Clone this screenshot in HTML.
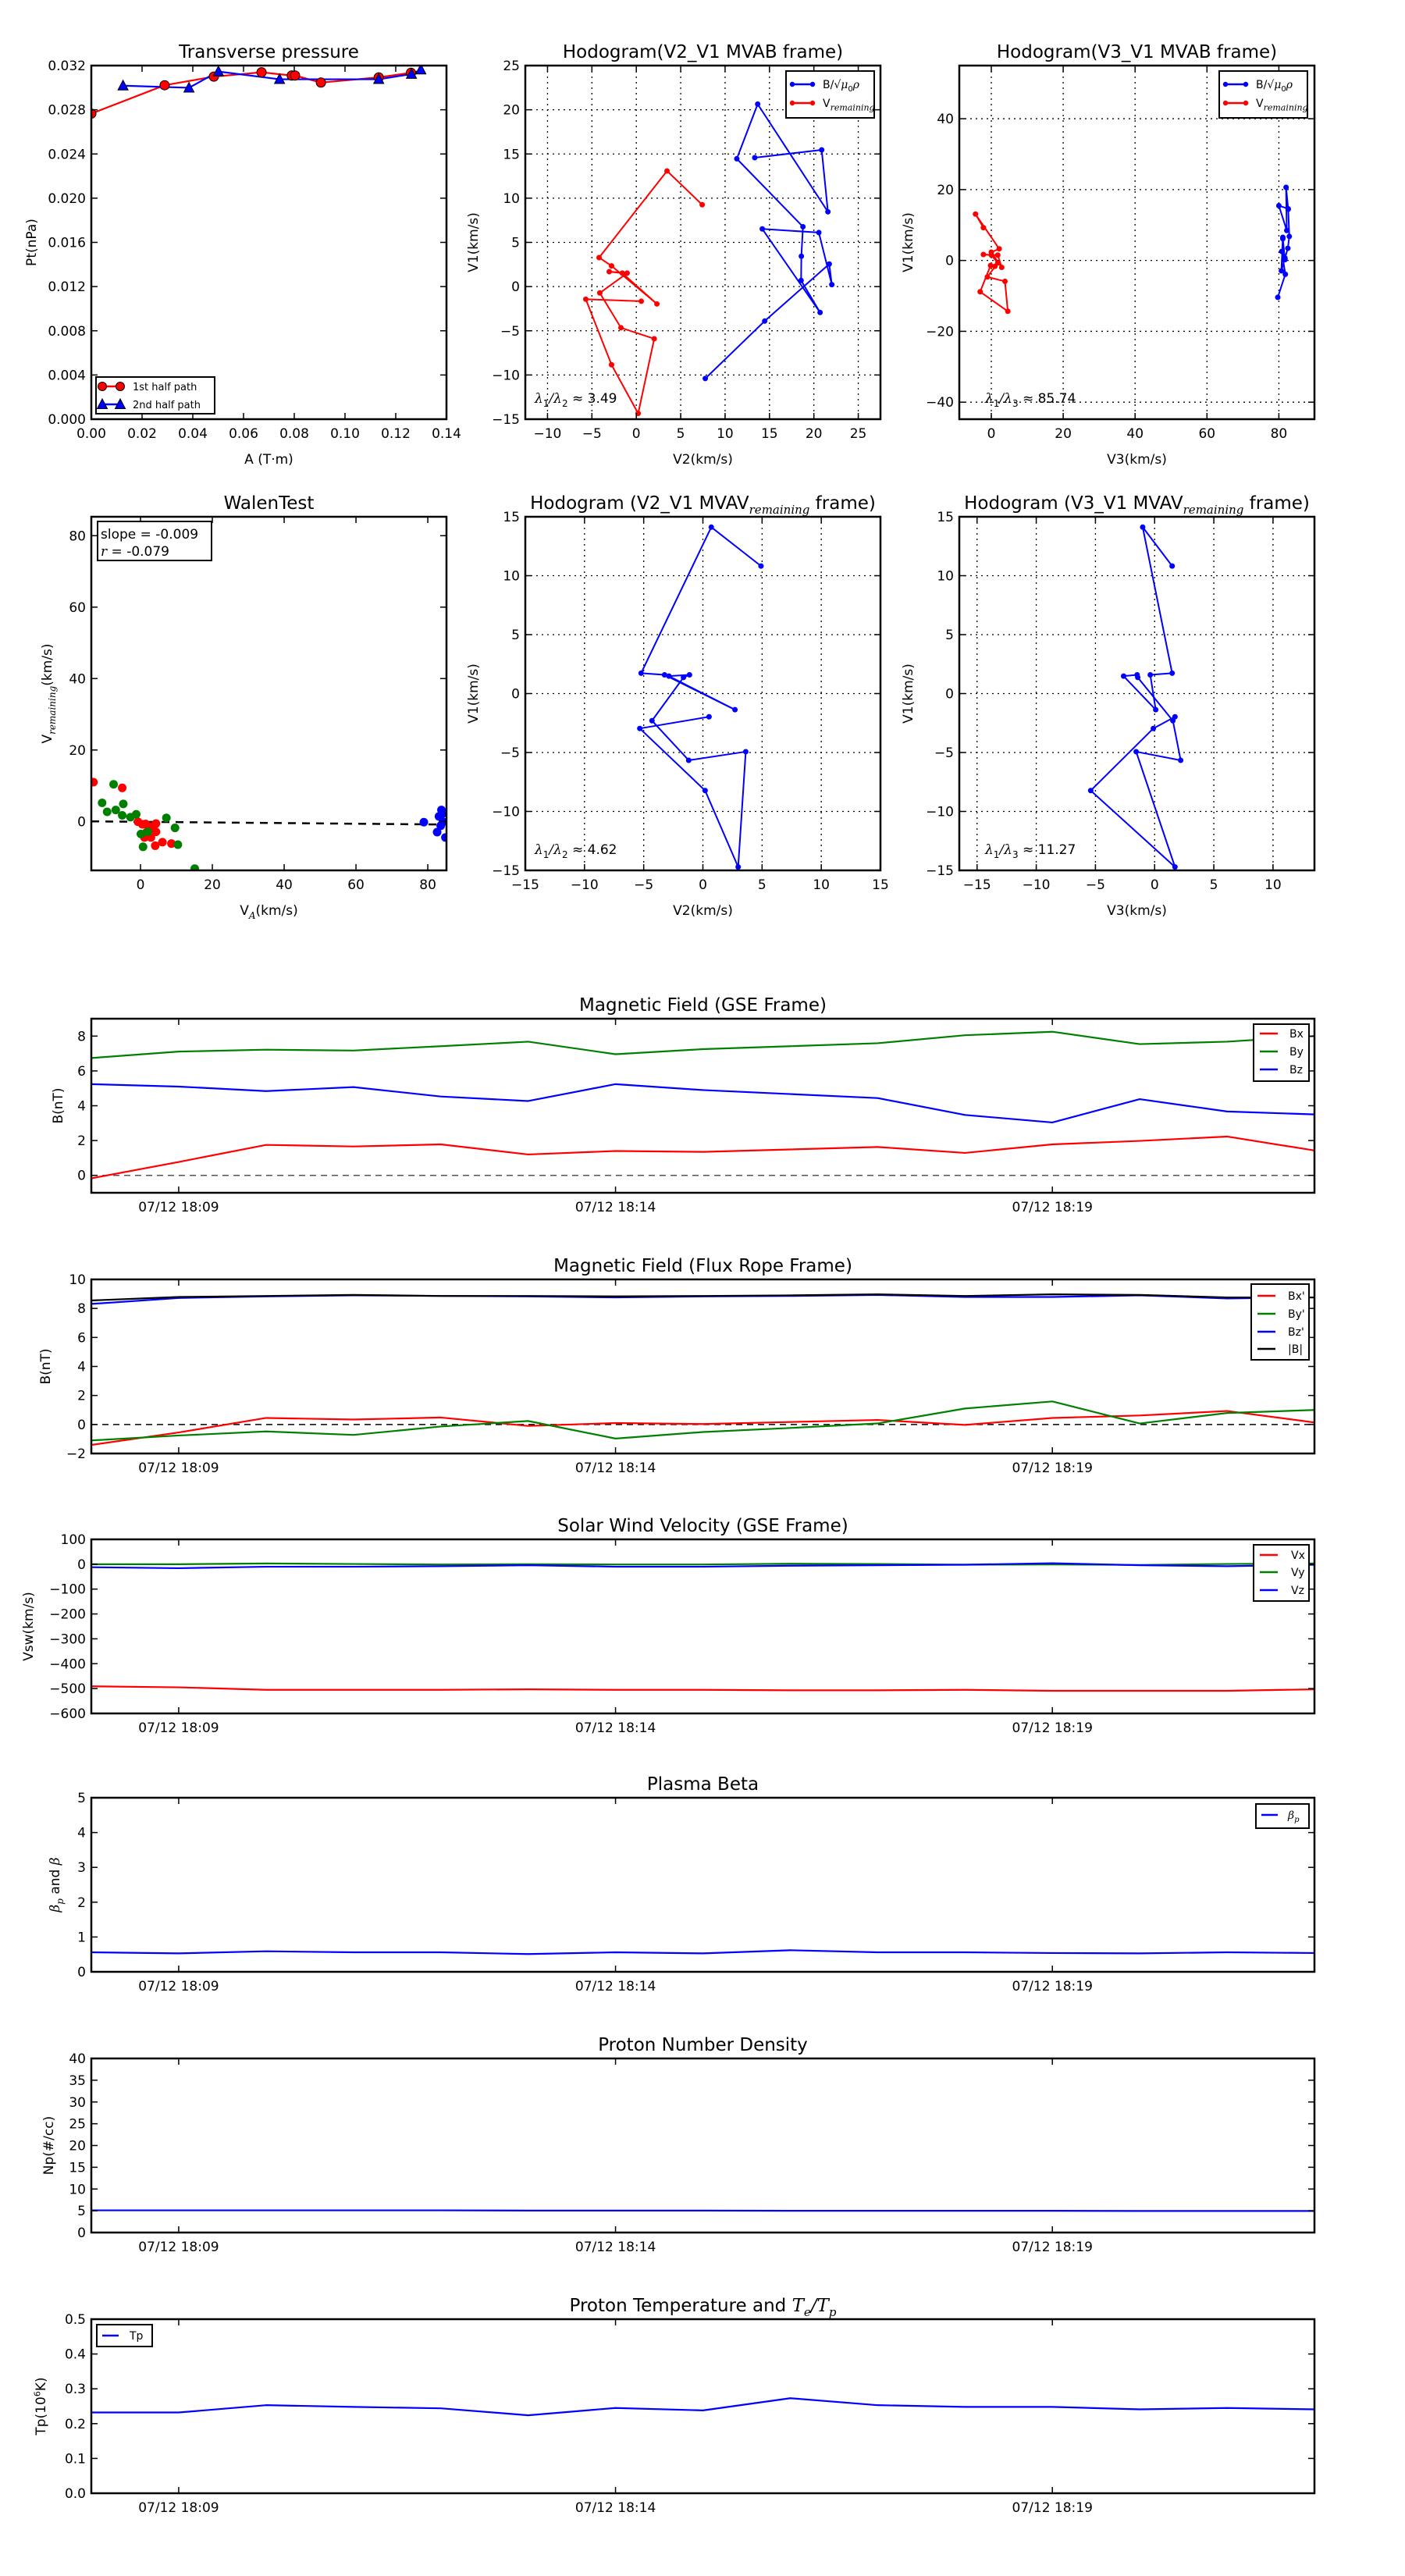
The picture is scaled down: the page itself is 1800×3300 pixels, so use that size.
<!DOCTYPE html>
<html><head><meta charset="utf-8"><style>
html,body{margin:0;padding:0;background:#fff;}
svg{display:block;font-family:"DejaVu Sans","Liberation Sans",sans-serif;}
</style></head><body>
<svg id="fig" width="1800" height="3300" viewBox="0 0 1800 3300" xmlns="http://www.w3.org/2000/svg">
<rect x="0" y="0" width="1800" height="3300" fill="#fff"/>
<defs id="defs"></defs>
</svg>
<script>
// ---------- DATA ----------
const p1A=[0.0,0.0289,0.0483,0.0671,0.079,0.0803,0.0905,0.1133,0.126];
const p1Pt=[0.02765,0.03022,0.0310,0.03139,0.0311,0.0311,0.03046,0.03093,0.03135];
const p2A=[0.0125,0.0385,0.0501,0.0742,0.1133,0.1262,0.1299];
const p2Pt=[0.03018,0.02999,0.03146,0.03076,0.03076,0.03123,0.03163];
const bV2=[13.34,20.88,21.58,13.67,11.32,18.77,18.59,18.56,20.70,14.19,20.56,22.02,21.73,14.46,7.77];
const bV1=[14.58,15.46,8.46,20.64,14.46,6.77,3.43,0.69,-2.93,6.52,6.11,0.22,2.55,-3.90,-10.40];
const bV3=[82.6,80.0,82.2,82.0,82.6,82.9,82.5,81.7,80.7,81.1,81.1,81.7,80.8,81.8,79.7];
const rV2=[7.42,3.46,-4.19,-2.79,2.32,-1.58,-3.05,-1.03,-4.11,-1.73,2.02,0.21,-2.79,-5.69,0.56];
const rV1=[9.26,13.08,3.28,2.34,-1.96,1.52,1.69,1.52,-0.72,-4.66,-5.90,-14.35,-8.84,-1.43,-1.66];
const rV3=[-2.2,-4.4,2.2,0.0,2.9,1.8,-2.2,0.0,1.8,-1.1,3.8,4.6,-3.1,-0.2,1.0];
const mV2=[4.91,0.71,-5.22,-3.24,2.71,-2.87,-1.13,-1.64,-4.30,-1.20,3.62,2.98,0.19,-5.33,0.52];
const mV1=[10.82,14.12,1.73,1.59,-1.37,1.48,1.59,1.37,-2.30,-5.66,-4.93,-14.71,-8.23,-2.96,-1.97];
const mV3=[1.48,-1.01,1.48,-0.37,0.09,-2.62,-1.48,-1.43,1.54,2.2,-1.56,1.72,-5.4,-0.11,1.72];
const wRedX=[-13.1,-5.1,-0.7,0.5,1.4,4.3,2.7,4.3,1.1,2.9,4.1,6.1,8.6,1.7];
const wRedY=[11.0,9.4,-0.1,-0.8,-0.7,-0.6,-1.5,-2.9,-4.5,-4.5,-6.8,-5.8,-6.2,-3.0];
const wGrnX=[-7.5,-10.7,-4.8,-9.3,-6.9,-5.1,-2.8,-1.2,7.2,9.6,0.1,2.0,0.7,10.4,15.1];
const wGrnY=[10.4,5.2,4.9,2.7,3.2,1.7,1.2,2.0,1.0,-1.8,-3.5,-2.9,-7.1,-6.5,-13.2];
const wBluX=[78.9,82.6,83.8,83.1,84.2,83.6,84.9,84.0];
const wBluY=[-0.2,-3.0,3.2,1.4,-0.1,-1.2,-4.5,2.1];
const wSlope=-0.009, wIntercept=-0.1;
const times=['18:08','18:09','18:10','18:11','18:12','18:13','18:14','18:15','18:16','18:17','18:18','18:19','18:20','18:21','18:22'];
const timeTickMin=[1,6,11];
const timeTickLabels=['07/12 18:09','07/12 18:14','07/12 18:19'];
const gseBx=[-0.17,0.77,1.75,1.66,1.78,1.2,1.4,1.35,1.49,1.63,1.29,1.78,1.98,2.23,1.43];
const gseBy=[6.74,7.11,7.22,7.17,7.42,7.68,6.96,7.25,7.42,7.59,8.05,8.25,7.54,7.68,8.0];
const gseBz=[5.24,5.1,4.84,5.07,4.53,4.27,5.24,4.9,4.67,4.44,3.47,3.04,4.38,3.67,3.5];
const frBx=[-1.41,-0.55,0.45,0.34,0.48,-0.1,0.1,0.03,0.17,0.31,-0.03,0.45,0.62,0.93,0.14];
const frBy=[-1.1,-0.76,-0.48,-0.72,-0.14,0.24,-0.97,-0.52,-0.24,0.07,1.1,1.59,0.07,0.79,1.0];
const frBz=[8.31,8.72,8.83,8.9,8.86,8.83,8.76,8.83,8.86,8.93,8.79,8.79,8.9,8.69,8.76];
const frBt=[8.55,8.79,8.86,8.93,8.86,8.86,8.83,8.86,8.9,8.97,8.86,8.97,8.93,8.76,8.76];
const vx=[-491,-495,-505,-505,-505,-503,-505,-505,-507,-507,-505,-509,-509,-509,-503];
const vy=[0,0,3,1,-1,0,-1,-1,2,1,-2,-1,-3,1,3];
const vz=[-12,-16,-10,-10,-8,-4,-10,-10,-6,-4,-2,4,-4,-8,-2];
const betaP=[0.56,0.53,0.59,0.56,0.56,0.51,0.56,0.53,0.62,0.56,0.56,0.54,0.53,0.56,0.54];
const np=[5.1,5.1,5.1,5.1,5.1,5.05,5.05,5.05,5.0,5.0,5.0,5.0,4.95,4.95,4.95];
const tp=[0.232,0.232,0.253,0.248,0.244,0.224,0.245,0.238,0.273,0.253,0.248,0.248,0.241,0.245,0.241];

// ---------- HELPERS ----------
const NS='http://www.w3.org/2000/svg';
const svg=document.getElementById('fig');
const defs=document.getElementById('defs');
let clipN=0;
function mk(tag,attrs,parent){const e=document.createElementNS(NS,tag);for(const k in attrs)e.setAttribute(k,attrs[k]);(parent||svg).appendChild(e);return e;}
function txt(x,y,s,attrs,parent){const e=mk('text',Object.assign({x:x,y:y,'font-size':17,fill:'#000'},attrs||{}),parent);e.textContent=s;return e;}
function range(a,b,s){const r=[];for(let v=a;v<=b+1e-9;v+=s)r.push(+v.toFixed(6));return r;}
const MATH={'font-family':'"DejaVu Serif","Liberation Serif",serif','font-style':'italic'};
// parts: {s, a, sub:size, sup:size}
function addParts(t,parts){
  let shift=0;
  parts.forEach(p=>{
    const a=Object.assign({},p.a||{});
    let target=0;
    if(p.sub){target=p.sub*0.4;a['font-size']=p.sub;}
    if(p.sup){target=-p.sup*0.6;a['font-size']=p.sup;}
    const d=target-shift;
    if(d!==0)a.dy=d;
    shift=target;
    const s=mk('tspan',a,t);s.textContent=p.s;
  });
}

function axes(o){
  const g=mk('g',{});
  
  
  const sx=v=>o.x+(v-o.xlim[0])/(o.xlim[1]-o.xlim[0])*o.w;
  const sy=v=>o.y+o.h-(v-o.ylim[0])/(o.ylim[1]-o.ylim[0])*o.h;
  const id='clip'+(clipN++);
  const cp=mk('clipPath',{id:id},defs);
  mk('rect',{x:o.x,y:o.y,width:o.w,height:o.h},cp);
  if(o.grid){
    o.xticks.forEach(t=>{const l=mk('line',{x1:sx(t),x2:sx(t),y1:o.y,y2:o.y+o.h,stroke:'#000','stroke-width':1.3,'stroke-dasharray':'2,5'},g);
      
      });
    o.yticks.forEach(t=>{const l=mk('line',{x1:o.x,x2:o.x+o.w,y1:sy(t),y2:sy(t),stroke:'#000','stroke-width':1.3,'stroke-dasharray':'2,5'},g);
      
      });
  }
  const data=mk('g',{'clip-path':'url(#'+id+')'},g);
  
  
  const front=mk('g',{},g);
  o.xticks.forEach((t,i)=>{
    const X=sx(t);
    mk('line',{x1:X,x2:X,y1:o.y+o.h,y2:o.y+o.h-8,stroke:'#000','stroke-width':1.5},front);
    mk('line',{x1:X,x2:X,y1:o.y,y2:o.y+8,stroke:'#000','stroke-width':1.5},front);
    const lab=o.xlabels?o.xlabels[i]:(o.xfmt?o.xfmt(t):String(t).replace('-','\u2212'));
    const e=txt(X,o.y+o.h+24,lab,{'text-anchor':'middle'},front);
    
    
  });
  o.yticks.forEach(t=>{
    const Y=sy(t);
    mk('line',{x1:o.x,x2:o.x+8,y1:Y,y2:Y,stroke:'#000','stroke-width':1.5},front);
    mk('line',{x1:o.x+o.w,x2:o.x+o.w-8,y1:Y,y2:Y,stroke:'#000','stroke-width':1.5},front);
    const lab=o.yfmt?o.yfmt(t):String(t).replace('-','\u2212');
    const e=txt(o.x-7,Y+6,lab,{'text-anchor':'end'},front);
    
    
  });
  const fr=mk('rect',{x:o.x,y:o.y,width:o.w,height:o.h,fill:'none',stroke:'#000','stroke-width':2.5},front);
  
  
  return {g:g,data:data,front:front,sx:sx,sy:sy,o:o};
}
function title(ax,parts){
  const t=mk('text',{x:ax.o.x+ax.o.w/2,y:ax.o.y-10,'font-size':23,'text-anchor':'middle'},ax.front);
  
  
  addParts(t,parts);
  return t;
}
function ylabel(ax,x,parts){
  const cy=ax.o.y+ax.o.h/2;
  const t=mk('text',{x:x,y:cy,'font-size':17,'text-anchor':'middle',transform:'rotate(-90 '+x+' '+cy+')'},ax.front);
  
  
  addParts(t,parts);
}
function xlabel(ax,y,parts){
  const t=mk('text',{x:ax.o.x+ax.o.w/2,y:y,'font-size':17,'text-anchor':'middle'},ax.front);
  
  
  addParts(t,parts);
}
function polyline(ax,xs,ys,color,w,name){
  const pts=xs.map((v,i)=>ax.sx(v).toFixed(2)+','+ax.sy(ys[i]).toFixed(2)).join(' ');
  const l=mk('polyline',{points:pts,fill:'none',stroke:color,'stroke-width':w,'stroke-linejoin':'round'},ax.data);
  
  
  return l;
}
function dots(ax,xs,ys,color,r,name,stroke){
  xs.forEach((v,i)=>{
    const c=mk('circle',{cx:ax.sx(v),cy:ax.sy(ys[i]),r:r,fill:color,stroke:stroke||'none','stroke-width':1},ax.data);
    
    
  });
}
function tris(ax,xs,ys,color,name){
  xs.forEach((v,i)=>{
    const X=ax.sx(v),Y=ax.sy(ys[i]);
    const p=mk('polygon',{points:(X)+','+(Y-7)+' '+(X-6.5)+','+(Y+5.5)+' '+(X+6.5)+','+(Y+5.5),fill:color,stroke:'#000','stroke-width':1},ax.data);
    
    
  });
}
function legendBox(parent,x,y,w,h,name){
  const r=mk('rect',{x:x,y:y,width:w,height:h,fill:'#fff',stroke:'#000','stroke-width':2},parent);
  
  
}
function legendLine(parent,x1,x2,y,color,label,tx,fs,marker){
  const l=mk('line',{x1:x1,x2:x2,y1:y,y2:y,stroke:color,'stroke-width':2.5},parent);
  
  
  if(marker){[x1,x2].forEach(xx=>{const c=mk('circle',{cx:xx,cy:y,r:3.2,fill:color},parent);
    
    });}
  const t=mk('text',{x:tx,y:y+5,'font-size':fs||14},parent);
  
  
  addParts(t,Array.isArray(label)?label:[{s:label}]);
}
function lambdaText(parent,x,y,n,val){
  const t=mk('text',{x:x,y:y,'font-size':17},parent);
  
  
  addParts(t,[{s:'\u03bb',a:MATH},{s:'1',sub:12},{s:'/',a:MATH},{s:'\u03bb',a:MATH},{s:n,sub:12},{s:' \u2248 '+val}]);
}

// ---------- ROW 1 ----------
const R1Y=84,R2Y=662,AH=453,AW=455,C1=117,C2=673,C3=1229;

const axP=axes({name:'transverse-pressure-chart',x:C1,y:R1Y,w:AW,h:AH,xlim:[0,0.14],ylim:[0,0.032],
  xticks:range(0,0.14,0.02),yticks:range(0,0.032,0.004),xfmt:v=>v.toFixed(2),yfmt:v=>v.toFixed(3)});
title(axP,[{s:'Transverse pressure'}]);
ylabel(axP,46,[{s:'Pt(nPa)'}]);
xlabel(axP,594,[{s:'A (T\u00b7m)'}]);
polyline(axP,p1A,p1Pt,'#ff0000',2.2,'first-half-path-line');
polyline(axP,p2A,p2Pt,'#0000ff',2.2,'second-half-path-line');
dots(axP,p1A,p1Pt,'#ff0000',6,'first-half-point','#000');
tris(axP,p2A,p2Pt,'#0000ff','second-half-point');
(function(){const f=axP.front;legendBox(f,123,483,152,47,'pressure-legend');
  legendLine(f,131,154,495,'#ff0000','1st half path',170,13);
  [131,154].forEach(xx=>{const c=mk('circle',{cx:xx,cy:495,r:5.5,fill:'#ff0000',stroke:'#000'},f);
    
    });
  legendLine(f,131,154,518,'#0000ff','2nd half path',170,13);
  [131,154].forEach(xx=>{const p=mk('polygon',{points:xx+','+(518-7)+' '+(xx-6.5)+','+(518+5.5)+' '+(xx+6.5)+','+(518+5.5),fill:'#0000ff',stroke:'#000'},f);
    
    });
})();

const axH1=axes({name:'hodogram-v2-v1-mvab',x:C2,y:R1Y,w:AW,h:AH,xlim:[-12.5,27.5],ylim:[-15,25],
  xticks:range(-10,25,5),yticks:range(-15,25,5),grid:true});
title(axH1,[{s:'Hodogram(V2_V1 MVAB frame)'}]);
ylabel(axH1,612,[{s:'V1(km/s)'}]);
xlabel(axH1,594,[{s:'V2(km/s)'}]);
polyline(axH1,bV2,bV1,'#0000ff',2,'b-hodogram-line');
dots(axH1,bV2,bV1,'#0000ff',3.5,'b-hodogram-point');
polyline(axH1,rV2,rV1,'#ff0000',2,'v-hodogram-line');
dots(axH1,rV2,rV1,'#ff0000',3.5,'v-hodogram-point');
lambdaText(axH1.front,685,516,'2','3.49');
function hodoLegend(ax,x,y){
  const f=ax.front;legendBox(f,x,y,113,60,'hodogram-legend');
  legendLine(f,x+8,x+34,y+17,'#0000ff',[{s:'B/\u221a'},{s:'\u03bc',a:MATH},{s:'0',sub:10},{s:'\u03c1',a:MATH}],x+47,14,true);
  legendLine(f,x+8,x+34,y+41,'#ff0000',[{s:'V'},{s:'remaining',sub:11,a:MATH}],x+47,14,true);
}
hodoLegend(axH1,1007,91);

const axH2=axes({name:'hodogram-v3-v1-mvab',x:C3,y:R1Y,w:AW,h:AH,xlim:[-8.9,89.9],ylim:[-44.8,55],
  xticks:range(0,80,20),yticks:range(-40,40,20),grid:true});
title(axH2,[{s:'Hodogram(V3_V1 MVAB frame)'}]);
ylabel(axH2,1169,[{s:'V1(km/s)'}]);
xlabel(axH2,594,[{s:'V3(km/s)'}]);
polyline(axH2,bV3,bV1,'#0000ff',2,'b-hodogram-line');
dots(axH2,bV3,bV1,'#0000ff',3.5,'b-hodogram-point');
polyline(axH2,rV3,rV1,'#ff0000',2,'v-hodogram-line');
dots(axH2,rV3,rV1,'#ff0000',3.5,'v-hodogram-point');
lambdaText(axH2.front,1262,516,'3','85.74');
hodoLegend(axH2,1562,91);

// ---------- ROW 2 ----------
const axW=axes({name:'walen-test-chart',x:C1,y:R2Y,w:AW,h:AH,xlim:[-13.7,85.2],ylim:[-13.7,85.3],
  xticks:range(0,80,20),yticks:range(0,80,20)});
title(axW,[{s:'WalenTest'}]);
ylabel(axW,66,[{s:'V'},{s:'remaining',sub:12,a:MATH},{s:'(km/s)'}]);
xlabel(axW,1172,[{s:'V'},{s:'A',sub:12,a:MATH},{s:'(km/s)'}]);
(function(){const x0=-13.7,x1=85.2;
  const l=mk('line',{x1:axW.sx(x0),y1:axW.sy(wIntercept+wSlope*x0),x2:axW.sx(x1),y2:axW.sy(wIntercept+wSlope*x1),stroke:'#000','stroke-width':2.5,'stroke-dasharray':'10,8'},axW.data);
  
  })();
dots(axW,wRedX,wRedY,'#ff0000',5.5,'walen-point-red');
dots(axW,wGrnX,wGrnY,'#008000',5.5,'walen-point-green');
dots(axW,wBluX,wBluY,'#0000ff',5.5,'walen-point-blue');
(function(){const f=axW.front;legendBox(f,125,668,146,50,'walen-stats-box');
  const t1=txt(129,690,'slope = -0.009',{},f);
  
  
  const t2=mk('text',{x:129,y:712,'font-size':17},f);
  
  
  addParts(t2,[{s:'r',a:MATH},{s:' = -0.079'}]);})();

const axH3=axes({name:'hodogram-v2-v1-mvav',x:C2,y:R2Y,w:AW,h:AH,xlim:[-15,15],ylim:[-15,15],
  xticks:range(-15,15,5),yticks:range(-15,15,5),grid:true});
title(axH3,[{s:'Hodogram (V2_V1 MVAV'},{s:'remaining',sub:15,a:MATH},{s:' frame)'}]);
ylabel(axH3,612,[{s:'V1(km/s)'}]);
xlabel(axH3,1172,[{s:'V2(km/s)'}]);
polyline(axH3,mV2,mV1,'#0000ff',2,'mvav-hodogram-line');
dots(axH3,mV2,mV1,'#0000ff',3.5,'mvav-hodogram-point');
lambdaText(axH3.front,685,1094,'2','4.62');

const axH4=axes({name:'hodogram-v3-v1-mvav',x:C3,y:R2Y,w:AW,h:AH,xlim:[-16.5,13.5],ylim:[-15,15],
  xticks:range(-15,10,5),yticks:range(-15,15,5),grid:true});
title(axH4,[{s:'Hodogram (V3_V1 MVAV'},{s:'remaining',sub:15,a:MATH},{s:' frame)'}]);
ylabel(axH4,1169,[{s:'V1(km/s)'}]);
xlabel(axH4,1172,[{s:'V3(km/s)'}]);
polyline(axH4,mV3,mV1,'#0000ff',2,'mvav-hodogram-line');
dots(axH4,mV3,mV1,'#0000ff',3.5,'mvav-hodogram-point');
lambdaText(axH4.front,1262,1094,'3','11.27');

// ---------- TIME SERIES ----------
const TX=117,TW=1567,TH=223;
const tops=[1305,1639,1972,2303,2637,2971];
const tIdx=times.map((t,i)=>i);
function tsAxes(i,name,ylim,yticks,yfmt){
  return axes({name:name,x:TX,y:tops[i],w:TW,h:TH,xlim:[0,times.length-1],ylim:ylim,
    xticks:timeTickMin,xlabels:timeTickLabels,yticks:yticks,yfmt:yfmt});
}
function zeroLine(ax,color){
  const l=mk('line',{x1:ax.sx(0),x2:ax.sx(times.length-1),y1:ax.sy(0),y2:ax.sy(0),stroke:color,'stroke-width':1.5,'stroke-dasharray':'8,6'},ax.data);
  
  
}
const t1=tsAxes(0,'magnetic-field-gse-chart',[-1,9],range(0,8,2));
title(t1,[{s:'Magnetic Field (GSE Frame)'}]);
ylabel(t1,80,[{s:'B(nT)'}]);
zeroLine(t1,'#555');
polyline(t1,tIdx,gseBx,'#ff0000',2.2,'bx-line');
polyline(t1,tIdx,gseBy,'#008000',2.2,'by-line');
polyline(t1,tIdx,gseBz,'#0000ff',2.2,'bz-line');
legendBox(t1.front,1606,1312,71,73,'gse-legend');
legendLine(t1.front,1614,1637,1324,'#ff0000','Bx',1652,14);
legendLine(t1.front,1614,1637,1347,'#008000','By',1652,14);
legendLine(t1.front,1614,1637,1370,'#0000ff','Bz',1652,14);

const t2=tsAxes(1,'magnetic-field-flux-rope-chart',[-2,10],range(-2,10,2));
title(t2,[{s:'Magnetic Field (Flux Rope Frame)'}]);
ylabel(t2,64,[{s:'B(nT)'}]);
zeroLine(t2,'#000');
polyline(t2,tIdx,frBx,'#ff0000',2.2,'bx-prime-line');
polyline(t2,tIdx,frBy,'#008000',2.2,'by-prime-line');
polyline(t2,tIdx,frBz,'#0000ff',2.2,'bz-prime-line');
polyline(t2,tIdx,frBt,'#000000',2.2,'b-magnitude-line');
legendBox(t2.front,1603,tops[1]+6,74,97,'flux-rope-legend');
legendLine(t2.front,1611,1634,tops[1]+21,'#ff0000',"Bx'",1650,14);
legendLine(t2.front,1611,1634,tops[1]+44,'#008000',"By'",1650,14);
legendLine(t2.front,1611,1634,tops[1]+67,'#0000ff',"Bz'",1650,14);
legendLine(t2.front,1611,1634,tops[1]+89,'#000000','|B|',1650,14);

const t3=tsAxes(2,'solar-wind-velocity-chart',[-600,100],range(-600,100,100));
title(t3,[{s:'Solar Wind Velocity (GSE Frame)'}]);
ylabel(t3,42,[{s:'Vsw(km/s)'}]);
polyline(t3,tIdx,vx,'#ff0000',2.2,'vx-line');
polyline(t3,tIdx,vy,'#008000',2.2,'vy-line');
polyline(t3,tIdx,vz,'#0000ff',2.2,'vz-line');
legendBox(t3.front,1606,tops[2]+7,71,72,'velocity-legend');
legendLine(t3.front,1614,1637,tops[2]+20,'#ff0000','Vx',1654,14);
legendLine(t3.front,1614,1637,tops[2]+42,'#008000','Vy',1654,14);
legendLine(t3.front,1614,1637,tops[2]+65,'#0000ff','Vz',1654,14);

const t4=tsAxes(3,'plasma-beta-chart',[0,5],range(0,5,1));
title(t4,[{s:'Plasma Beta'}]);
ylabel(t4,76,[{s:'\u03b2',a:MATH},{s:'p',sub:12,a:MATH},{s:' and '},{s:'\u03b2',a:MATH}]);
polyline(t4,tIdx,betaP,'#0000ff',2.2,'beta-p-line');
legendBox(t4.front,1609,tops[3]+8,68,31,'beta-legend');
legendLine(t4.front,1616,1637,tops[3]+22,'#0000ff',[{s:'\u03b2',a:MATH},{s:'p',sub:10,a:MATH}],1650,14);

const t5=tsAxes(4,'proton-density-chart',[0,40],range(0,40,5));
title(t5,[{s:'Proton Number Density'}]);
ylabel(t5,68,[{s:'Np(#/cc)'}]);
polyline(t5,tIdx,np,'#0000ff',2.2,'np-line');

const t6=tsAxes(5,'proton-temperature-chart',[0,0.5],range(0,0.5,0.1),v=>v.toFixed(1));
title(t6,[{s:'Proton Temperature and '},{s:'T',a:MATH},{s:'e',sub:15,a:MATH},{s:'/',a:MATH},{s:'T',a:MATH},{s:'p',sub:15,a:MATH}]);
ylabel(t6,58,[{s:'Tp(10'},{s:'6',sup:11},{s:'K)'}]);
polyline(t6,tIdx,tp,'#0000ff',2.2,'tp-line');
legendBox(t6.front,124,tops[5]+7,71,28,'tp-legend');
legendLine(t6.front,131,152,tops[5]+21,'#0000ff','Tp',166,14);
</script>
</body></html>
